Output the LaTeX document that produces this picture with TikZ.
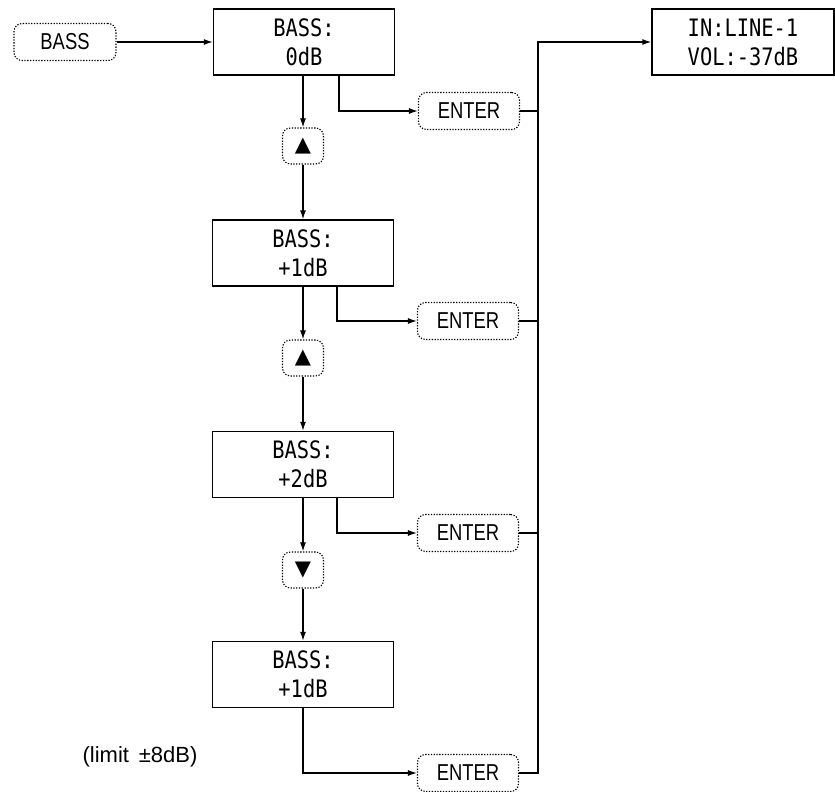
\documentclass[tikz,border=0pt]{standalone}
\usepackage{fontspec}
\usetikzlibrary{arrows.meta}
\setmainfont{Liberation Sans}
\newfontfamily\lcdfont[FakeStretch=0.85]{DejaVu Sans Mono}
\newfontfamily\keyfont[FakeStretch=0.8]{Liberation Sans}
\newfontfamily\symfont{DejaVu Sans}
\begin{document}
\begin{tikzpicture}[x=1pt,y=-1pt,
  line width=1.3pt,
  lcd/.style={draw, line width=1.3pt, minimum width=181pt, minimum height=66pt, inner sep=0pt, align=center,
    font=\lcdfont\fontsize{24}{29}\selectfont},
  keybox/.style={draw, line width=1.1pt, dash pattern=on 1.3pt off 1.5pt, rounded corners=8pt,
    minimum height=37pt, inner sep=0pt, font=\keyfont\fontsize{23}{24}\selectfont},
  arrowkey/.style={keybox, minimum width=41pt, minimum height=36pt, font=\symfont\fontsize{21}{24}\selectfont},
  enterkey/.style={keybox, minimum width=101pt},
  arr/.style={-{Latex[length=9pt,width=6pt]}},
  note/.style={font=\fontsize{22}{24}\selectfont, inner sep=0pt}
]
\useasboundingbox (0,0) rectangle (835,792);

% buttons and displays
\node[keybox, minimum width=102pt] (bass) at (65,42) {BASS};
\node[lcd] (b0) at (304,42) {BASS:\\0dB};
\node[lcd, minimum width=182pt] (in) at (743,42) {IN:LINE-1\\VOL:-37dB};

\node[arrowkey] (up1) at (303,146) {▲};
\node[lcd] (b1) at (303,253) {BASS:\\+1dB};
\node[arrowkey] (up2) at (303,358) {▲};
\node[lcd] (b2) at (303,464.5) {BASS:\\+2dB};
\node[arrowkey] (dn1) at (303,570) {▼};
\node[lcd] (b3) at (303,674.5) {BASS:\\+1dB};

\node[enterkey] (e1) at (469,111) {ENTER};
\node[enterkey] (e2) at (468,321) {ENTER};
\node[enterkey] (e3) at (468,533) {ENTER};
\node[enterkey] (e4) at (468,773) {ENTER};

\node[note] (lim) at (140,757) {(limit \,±8dB)};

\coordinate (bustop) at (538,42);
\coordinate (busbot) at (538,773);

% main flow
\draw[arr] (bass.east) -- (b0.west);
\draw[arr] ([xshift=-1pt]b0.south) -- (up1.north);
\draw[arr] (up1.south) -- (b1.north);
\draw[arr] (b1.south) -- (up2.north);
\draw[arr] (up2.south) -- (b2.north);
\draw[arr] (b2.south) -- (dn1.north);
\draw[arr] (dn1.south) -- (b3.north);

% enter branches
\draw[arr] ([xshift=35pt]b0.south) |- (e1.west);
\draw[arr] ([xshift=34pt]b1.south) |- (e2.west);
\draw[arr] ([xshift=34pt]b2.south) |- (e3.west);
\draw[arr] (b3.south) |- (e4.west);

% bus to result
\draw (e1.east) -- (e1.east -| bustop);
\draw (e2.east) -- (e2.east -| bustop);
\draw (e3.east) -- (e3.east -| bustop);
\draw[arr] (e4.east) -- (busbot) -- (bustop) -- (in.west);
\end{tikzpicture}
\end{document}
